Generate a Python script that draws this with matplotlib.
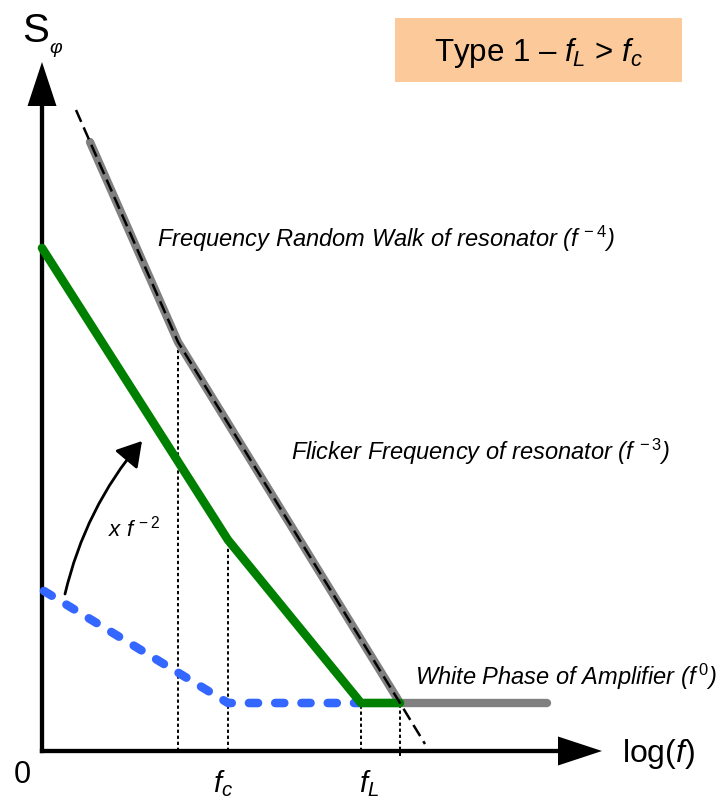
import matplotlib
matplotlib.use("Agg")
import matplotlib.pyplot as plt
from matplotlib.patches import Rectangle

plt.rcParams["font.family"] = ["Liberation Sans", "DejaVu Sans"]
plt.rcParams["mathtext.fontset"] = "custom"
plt.rcParams["mathtext.rm"] = "Liberation Sans"
plt.rcParams["mathtext.it"] = "Liberation Sans:italic"
plt.rcParams["mathtext.bf"] = "Liberation Sans:bold"

# corner positions on the log-frequency axis
f_rw = 136        # random-walk -> flicker corner of the resonator
f_c = 186         # amplifier flicker corner
f_L = 319         # Leeson frequency
f_x = 358         # resonator noise reaches the white floor
f_guide_top = 34
f_guide_end = 383
f_end = 505

white_floor = 48

# amplifier phase noise (flicker then white)
amp_x = [2, f_c, f_L]
amp_y = [160, white_floor, white_floor]

# amplifier noise after the x f^-2 Leeson conversion
leeson_x = [0, f_c, f_L, f_x]
leeson_y = [503, 211, white_floor, white_floor]

# resonator contribution and total floor
res_x = [48, f_rw, f_x, f_end]
res_y = [609, 409, white_floor, white_floor]

# asymptote guide along the resonator slopes
guide_x = [f_guide_top, f_rw, f_x, f_guide_end]
guide_y = [641, 409, white_floor, 7]

# vertical markers at the corner frequencies
marker_x = [f_rw, f_c, f_L, f_x]
marker_bottom = [0, 0, 0, -5]
marker_top = [409, 211, white_floor, white_floor]

# axis extents
y_axis_len = 689
x_axis_len = 560
head_len = 44
head_half = 14.5

fig = plt.figure(figsize=(7.2, 8.04), dpi=100)
ax = fig.add_axes([0, 0, 1, 1])
ax.set_xlim(-42, 678)
ax.set_ylim(-52, 752)
ax.axis("off")

# axes with arrow heads
ax.plot([0, 0], [0, y_axis_len - head_len + 2], color="black", lw=3.1,
        solid_capstyle="projecting")
ax.plot([0, x_axis_len - head_len + 2], [0, 0], color="black", lw=3.1,
        solid_capstyle="projecting")
ax.fill([-head_half, head_half, 0], [y_axis_len - head_len] * 2 + [y_axis_len],
        color="black", lw=0)
ax.fill([x_axis_len - head_len] * 2 + [x_axis_len], [-head_half, head_half, 0],
        color="black", lw=0)

# dotted corner markers
for x, y0, y1 in zip(marker_x, marker_bottom, marker_top):
    ax.plot([x, x], [y0, y1], color="black", lw=1.4, dashes=(1.7, 1.4),
            dash_capstyle="butt")

# curves
ax.plot(amp_x, amp_y, color="#3467FF", lw=6.2, dashes=(1.05, 2.0),
        dash_capstyle="round", solid_joinstyle="round")
ax.plot(res_x, res_y, color="#808080", lw=6.0, solid_capstyle="round",
        solid_joinstyle="round")
ax.plot(leeson_x, leeson_y, color="#008000", lw=6.2, solid_capstyle="round",
        solid_joinstyle="round")
ax.plot(guide_x, guide_y, color="black", lw=1.8, dashes=(5.2, 2.4),
        dash_capstyle="butt")

# x f^-2 conversion arrow
ax.annotate("", xy=(100, 310), xytext=(23, 157),
            arrowprops=dict(arrowstyle="-|>,head_length=0.75,head_width=0.45",
                            mutation_scale=20, color="black", lw=2.0,
                            shrinkA=0, shrinkB=0,
                            connectionstyle="arc3,rad=-0.12"))
ax.text(66, 215, r"x $f^{\,-2}$", style="italic", fontsize=16, ha="left",
        va="baseline")

# region labels
ax.text(115, 505, r"Frequency Random Walk of resonator ($f^{\,-4}$)",
        style="italic", fontsize=17, ha="left", va="baseline")
ax.text(249, 292, r"Flicker Frequency of resonator ($f^{\,-3}$)",
        style="italic", fontsize=17, ha="left", va="baseline")
ax.text(373, 67, r"White Phase of Amplifier ($f^{\,0}$)",
        style="italic", fontsize=17, ha="left", va="baseline")

# title box
ax.add_patch(Rectangle((353, 669), 287, 64, facecolor="#FBC99A",
                       edgecolor="none"))
ax.text(496.5, 691, r"Type 1 – $f_L$ > $f_c$", fontsize=22.5, ha="center",
        va="baseline")

# axis labels
ax.text(-20, 710, "S", fontsize=29, ha="left", va="baseline")
ax.text(7, 699, "φ", style="italic", fontsize=14, ha="left", va="baseline")
ax.text(580, -10, r"log($f$)", fontsize=23, ha="left", va="baseline")
ax.text(-20, -23, "0", fontsize=22, ha="center", va="center")
ax.text(181, -40, r"$f_c$", fontsize=21, ha="center", va="baseline")
ax.text(327, -40, r"$f_L$", fontsize=21, ha="center", va="baseline")

fig.savefig("out.png", dpi=100)
